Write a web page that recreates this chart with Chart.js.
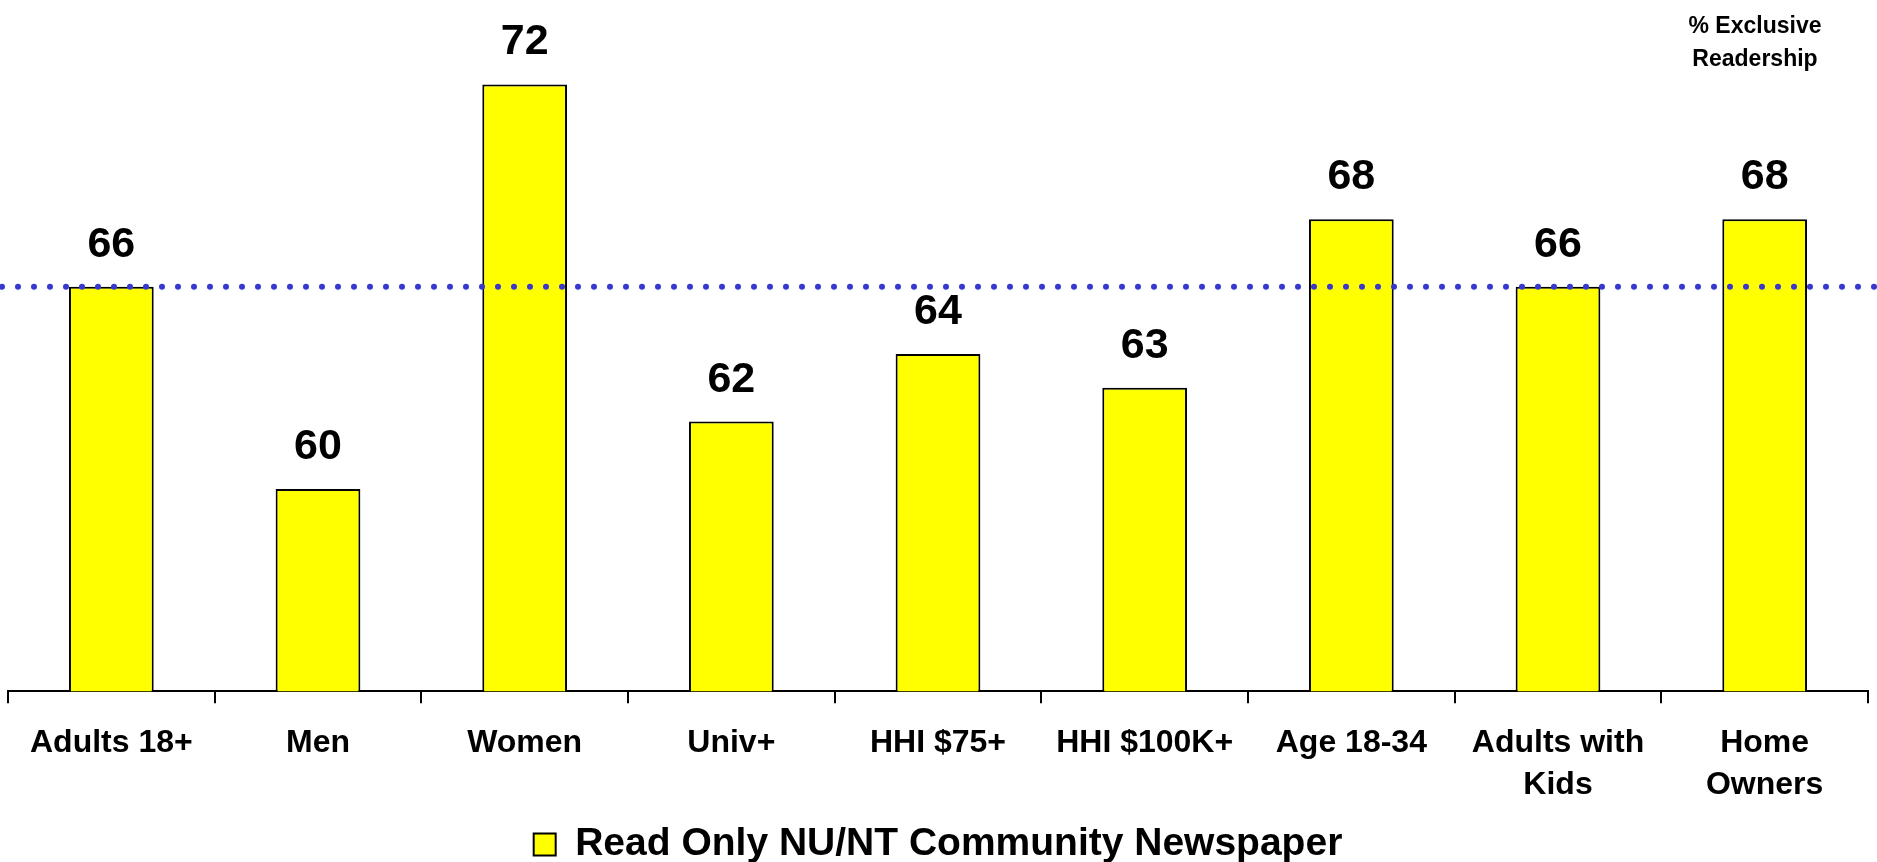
<!DOCTYPE html>
<html>
<head>
<meta charset="utf-8">
<title>Exclusive Readership</title>
<script src="https://cdn.jsdelivr.net/npm/chart.js@4.4.1/dist/chart.umd.min.js"></script>
<style>
    html, body { margin: 0; padding: 0; background: #ffffff; }
    #wrap { position: relative; width: 1877px; height: 862px; }
    #note {
        position: absolute; left: 1680px; top: 9px; width: 150px;
        text-align: center; font: bold 23px "Liberation Sans", Arial, sans-serif;
        line-height: 33px; color: #000;
    }
</style>
</head>
<body>
<div id="wrap">
    <canvas id="readership-chart"></canvas>
    <div id="note">% Exclusive Readership</div>
</div>
<script>
// Segments and their exclusive readership share (%)
const categories = [
    'Adults 18+', 'Men', 'Women', 'Univ+', 'HHI $75+',
    'HHI $100K+', 'Age 18-34', ['Adults with', 'Kids'], ['Home', 'Owners']
];
const readOnlyValues = [66, 60, 72, 62, 64, 63, 68, 66, 68];
const seriesLabel = 'Read Only NU/NT Community Newspaper';
const referenceValue = 66; // all adults level, drawn as dotted line

const FONT = '"Liberation Sans", Arial, sans-serif';

// Dotted reference line running across the whole canvas width
const referenceLinePlugin = {
    id: 'referenceLine',
    afterDatasetsDraw(chart) {
        const ctx = chart.ctx;
        const y = chart.scales.y.getPixelForValue(referenceValue);
        ctx.save();
        ctx.strokeStyle = '#3838cc';
        ctx.lineWidth = 6;
        ctx.lineCap = 'round';
        ctx.setLineDash([0, 16]);
        ctx.beginPath();
        ctx.moveTo(2, y);
        ctx.lineTo(chart.width, y);
        ctx.stroke();
        ctx.restore();
    }
};

// Value labels above each bar
const valueLabelPlugin = {
    id: 'valueLabels',
    afterDatasetsDraw(chart) {
        const ctx = chart.ctx;
        const meta = chart.getDatasetMeta(0);
        ctx.save();
        ctx.font = 'bold 43px ' + FONT;
        ctx.fillStyle = '#000';
        ctx.textAlign = 'center';
        ctx.textBaseline = 'alphabetic';
        meta.data.forEach((bar, i) => {
            ctx.fillText(String(readOnlyValues[i]), bar.x, bar.y - 30);
        });
        ctx.restore();
    }
};

const ctx = document.getElementById('readership-chart').getContext('2d');
new Chart(ctx, {
    type: 'bar',
    data: {
        labels: categories,
        datasets: [{
            label: seriesLabel,
            data: readOnlyValues,
            backgroundColor: '#ffff00',
            borderColor: '#000000',
            borderWidth: 2,
            categoryPercentage: 1.0,
            barPercentage: 0.41
        }]
    },
    options: {
        responsive: true,
        maintainAspectRatio: false,
        animation: false,
        layout: { padding: { left: 8, right: 9, top: 17, bottom: -12 } },
        scales: {
            x: {
                grid: {
                    display: true,
                    drawOnChartArea: false,
                    drawTicks: true,
                    tickLength: 12,
                    color: '#000',
                    lineWidth: 2,
                    offset: true
                },
                border: { display: true, color: '#000', width: 2 },
                ticks: {
                    color: '#000',
                    font: { family: FONT, size: 32, weight: 'bold', lineHeight: 1.34 },
                    padding: 18,
                    maxRotation: 0,
                    autoSkip: false
                }
            },
            y: {
                display: false,
                min: 54,
                max: 74
            }
        },
        plugins: {
            legend: {
                position: 'bottom',
                labels: {
                    color: '#000',
                    font: { family: FONT, size: 39, weight: 'bold' },
                    boxWidth: 22,
                    boxHeight: 22,
                    padding: 0
                }
            },
            tooltip: { enabled: false }
        }
    },
    plugins: [referenceLinePlugin, valueLabelPlugin]
});
</script>
</body>
</html>
